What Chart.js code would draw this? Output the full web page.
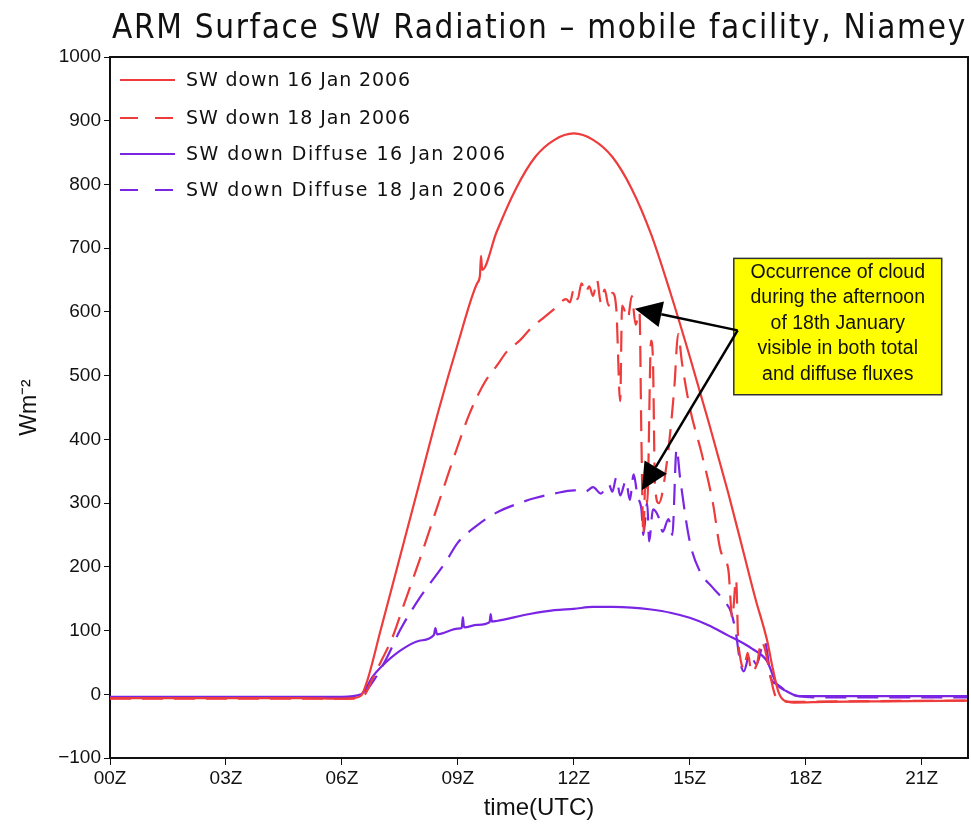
<!DOCTYPE html>
<html>
<head>
<meta charset="utf-8">
<title>ARM Surface SW Radiation</title>
<script src="https://cdn.jsdelivr.net/npm/chart.js@4.4.0/dist/chart.umd.min.js"></script>
<style>
  html, body { margin: 0; padding: 0; background: #fff; }
</style>
</head>
<body>
<canvas id="swChart" width="971" height="825"></canvas>
<script>
// ========== Data (hours UTC / W m-2) ==========
const xTickHours = [0, 3, 6, 9, 12, 15, 18, 21];
const yTickValues = [-100, 0, 100, 200, 300, 400, 500, 600, 700, 800, 900, 1000];

// SW down 16 Jan 2006 (clear day)
const sw16Hours = [0, 3, 5, 6, 6.3, 6.5, 6.65, 7.0, 7.5, 8.0, 8.5, 9.0, 9.5, 9.57, 9.6, 9.63, 10.0, 10.5, 11.0, 11.5, 12.0, 12.5, 13.0, 13.5, 14.0, 14.5, 15.0, 15.5, 16.0, 16.34, 16.7, 17.0, 17.15, 17.3, 17.45, 17.7, 18.5, 20, 22.2];
const sw16Values = [-6, -6, -6, -7, -6, -2, 20, 100, 215, 330, 445, 550, 645, 656, 688, 666, 725, 793, 843, 870, 880, 870, 843, 793, 722, 630, 530, 425, 315, 235, 150, 85, 40, 3, -10, -13, -12, -11, -10];

// SW down 18 Jan 2006 (cloudy afternoon)
const sw18Hours = [0, 3, 6, 6.5, 6.6, 6.8, 7.0, 7.3, 7.6, 8.0, 8.5, 9.0, 9.3, 9.7, 10.0, 10.3, 10.6, 10.9, 11.2, 11.5, 11.8, 11.9, 12.0, 12.1, 12.2, 12.3, 12.4, 12.5, 12.6, 12.7, 12.8, 12.9, 13.0, 13.1, 13.2, 13.25, 13.4, 13.5, 13.6, 13.7, 13.75, 13.8, 13.85, 13.9, 14.0, 14.05, 14.1, 14.2, 14.4, 14.6, 14.7, 14.8, 15.0, 15.3, 15.6, 15.8, 16.0, 16.1, 16.2, 16.25, 16.3, 16.4, 16.5, 16.6, 16.75, 16.85, 16.95, 17.05, 17.2, 17.35, 17.6, 19, 22.2];
const sw18Values = [-7, -7, -7, -5, 0, 25, 50, 88, 140, 209, 300, 390, 440, 490, 515, 540, 555, 575, 590, 605, 620, 615, 635, 620, 645, 630, 640, 625, 650, 615, 635, 610, 630, 605, 460, 610, 590, 625, 580, 600, 400, 250, 330, 300, 555, 520, 330, 300, 360, 480, 565, 520, 450, 380, 300, 225, 195, 120, 180, 90, 60, 40, 65, 35, 50, 83, 70, 40, 0, -8, -12, -11, -10];

// SW down Diffuse 16 Jan 2006
const dif16Hours = [0, 3, 6, 6.5, 6.8, 7.0, 7.5, 8.0, 8.38, 8.42, 8.46, 9.0, 9.1, 9.13, 9.16, 9.5, 9.82, 9.85, 9.88, 10.0, 10.86, 11.5, 12.0, 12.5, 13.0, 13.5, 14.0, 14.5, 15.0, 15.5, 16.0, 16.2, 16.6, 17.0, 17.25, 17.5, 17.85, 19, 22.2];
const dif16Values = [-4, -4, -4, 0, 28, 42, 68, 84, 93, 104, 94, 103, 104, 121, 105, 109, 113, 126, 114, 115, 126, 132, 134, 137, 137, 136, 133, 128, 120, 108, 92, 86, 72, 52, 16, 5, -3, -3, -3];

// SW down Diffuse 18 Jan 2006
const dif18Hours = [0, 3, 6, 6.5, 6.75, 7.16, 7.5, 8.0, 8.7, 9.0, 9.5, 10.0, 10.5, 11.0, 11.5, 12.0, 12.3, 12.5, 12.7, 12.9, 13.0, 13.1, 13.2, 13.35, 13.45, 13.55, 13.65, 13.75, 13.8, 13.9, 13.95, 14.05, 14.2, 14.3, 14.45, 14.55, 14.66, 14.75, 15.0, 15.26, 15.6, 15.9, 16.08, 16.2, 16.3, 16.4, 16.55, 16.73, 16.86, 16.94, 17.0, 17.1, 17.25, 17.5, 17.8, 18.5, 22.2];
const dif18Values = [-5, -5, -5, -2, 15, 57, 100, 150, 209, 238, 265, 285, 298, 308, 315, 320, 318, 325, 315, 330, 318, 340, 312, 335, 305, 345, 310, 290, 250, 300, 240, 290, 277, 255, 275, 250, 385, 340, 240, 193, 167, 146, 127, 94, 52, 36, 63, 47, 72, 83, 68, 25, 16, 5, -3, -5, -5];

const seriesLabels = ['SW down 16 Jan 2006', 'SW down 18 Jan 2006', 'SW down Diffuse 16 Jan 2006', 'SW down Diffuse 18 Jan 2006'];

const noteLines = ['Occurrence of cloud', 'during the afternoon', 'of 18th January', 'visible in both total', 'and diffuse fluxes'];

// ========== Styles ==========
const RED = '#ee3b3b';
const PURPLE = '#7a25e4';
const DASH = [21, 11];
const LEGEND_DASH = [18, 17];

function toPoints(hours, values) {
  return hours.map((h, i) => ({ x: h, y: values[i] }));
}

// ========== Decorations (frame, title, legend, note) ==========
const decorPlugin = {
  id: 'decor',
  afterDraw(chart) {
    const { ctx, chartArea: a, scales } = chart;
    const xs = scales.x, ys = scales.y;
    ctx.save();

    // frame top + right
    ctx.strokeStyle = '#111';
    ctx.lineWidth = 2;
    ctx.beginPath();
    ctx.moveTo(a.left, a.top);
    ctx.lineTo(a.right, a.top);
    ctx.lineTo(a.right, a.bottom);
    ctx.stroke();

    // title
    ctx.fillStyle = '#111';
    ctx.font = '33px "Liberation Sans Narrow", "DejaVu Sans Condensed", sans-serif';
    ctx.textBaseline = 'alphabetic';
    ctx.textAlign = 'left';
    const title = 'ARM Surface SW Radiation \u2013 mobile facility, Niamey';
    fitText(ctx, title, 112, 38, 853);

    // legend
    const rowsY = [80, 118, 154, 190];
    chart.data.datasets.forEach((ds, i) => {
      const y = rowsY[i];
      ctx.strokeStyle = ds.borderColor;
      ctx.lineWidth = 2;
      ctx.setLineDash(ds.borderDash ? LEGEND_DASH : []);
      ctx.beginPath();
      ctx.moveTo(120, y);
      ctx.lineTo(175, y);
      ctx.stroke();
      ctx.setLineDash([]);
      ctx.fillStyle = '#111';
      ctx.font = '19px "DejaVu Sans", sans-serif';
      ctx.textBaseline = 'middle';
      const w = ds.label.length * 11.8;
      fitText(ctx, ds.label, 186, y + 1, w);
    });

    // note box (data coords)
    const bx0 = xs.getPixelForValue(16.14), bx1 = xs.getPixelForValue(21.52);
    const by0 = ys.getPixelForValue(684), by1 = ys.getPixelForValue(470);
    ctx.fillStyle = '#ffff00';
    ctx.fillRect(bx0, by0, bx1 - bx0, by1 - by0);
    ctx.strokeStyle = '#333';
    ctx.lineWidth = 1.5;
    ctx.strokeRect(bx0, by0, bx1 - bx0, by1 - by0);
    ctx.fillStyle = '#111';
    ctx.font = '19.5px "Liberation Sans", Arial, sans-serif';
    ctx.textAlign = 'center';
    ctx.textBaseline = 'middle';
    const cx = (bx0 + bx1) / 2;
    noteLines.forEach((t, i) => ctx.fillText(t, cx, by0 + 14 + i * 25.5));

    // arrows
    const ox = xs.getPixelForValue(16.24), oy = ys.getPixelForValue(571);
    drawArrow(ctx, ox, oy, xs.getPixelForValue(13.58), ys.getPixelForValue(605));
    drawArrow(ctx, ox, oy, xs.getPixelForValue(13.76), ys.getPixelForValue(320));

    ctx.restore();
  }
};

function fitText(ctx, text, x, y, width) {
  ctx.letterSpacing = '0px';
  const natural = ctx.measureText(text).width;
  const extra = (width - natural) / Math.max(1, text.length - 1);
  if (extra > 0) ctx.letterSpacing = extra.toFixed(2) + 'px';
  ctx.fillText(text, x, y, extra < 0 ? width : undefined);
  ctx.letterSpacing = '0px';
}

function drawArrow(ctx, x0, y0, x1, y1) {
  const ang = Math.atan2(y1 - y0, x1 - x0);
  const len = 27, half = 13;
  const bx = x1 - len * Math.cos(ang), by = y1 - len * Math.sin(ang);
  ctx.strokeStyle = '#000';
  ctx.fillStyle = '#000';
  ctx.lineWidth = 2.5;
  ctx.beginPath();
  ctx.moveTo(x0, y0);
  ctx.lineTo(bx, by);
  ctx.stroke();
  ctx.beginPath();
  ctx.moveTo(x1, y1);
  ctx.lineTo(bx + half * Math.sin(ang), by - half * Math.cos(ang));
  ctx.lineTo(bx - half * Math.sin(ang), by + half * Math.cos(ang));
  ctx.closePath();
  ctx.fill();
}

// ========== Chart ==========
const ctx = document.getElementById('swChart');
new Chart(ctx, {
  type: 'line',
  data: {
    datasets: [
      { label: seriesLabels[0], data: toPoints(sw16Hours, sw16Values), borderColor: RED, borderWidth: 2.2 },
      { label: seriesLabels[1], data: toPoints(sw18Hours, sw18Values), borderColor: RED, borderWidth: 2.2, borderDash: DASH },
      { label: seriesLabels[2], data: toPoints(dif16Hours, dif16Values), borderColor: PURPLE, borderWidth: 2.2 },
      { label: seriesLabels[3], data: toPoints(dif18Hours, dif18Values), borderColor: PURPLE, borderWidth: 2.2, borderDash: DASH }
    ]
  },
  options: {
    responsive: false,
    animation: false,
    parsing: false,
    layout: { padding: { top: 57, right: 3, left: 0, bottom: 0 } },
    elements: {
      point: { radius: 0 },
      line: { cubicInterpolationMode: 'monotone', fill: false }
    },
    plugins: {
      legend: { display: false },
      tooltip: { enabled: false }
    },
    scales: {
      x: {
        type: 'linear',
        min: 0,
        max: 22.2,
        afterBuildTicks: s => { s.ticks = xTickHours.map(v => ({ value: v })); },
        afterFit: s => { s.height = 67; },
        ticks: {
          color: '#111',
          padding: 2,
          font: { family: 'Liberation Sans', size: 19 },
          callback: v => String(v).padStart(2, '0') + 'Z'
        },
        grid: { drawOnChartArea: false, color: '#111', tickLength: 7 },
        border: { color: '#111', width: 2 },
        title: {
          display: true,
          text: 'time(UTC)',
          color: '#111',
          font: { family: 'Liberation Sans', size: 24 },
          padding: { top: 0, bottom: 2 }
        }
      },
      y: {
        type: 'linear',
        min: -100,
        max: 1000,
        afterBuildTicks: s => { s.ticks = yTickValues.map(v => ({ value: v })); },
        afterFit: s => { s.width = 110; },
        ticks: {
          color: '#111',
          padding: 3,
          font: { family: 'Liberation Sans', size: 19 },
          callback: v => (v < 0 ? '\u2212' + Math.abs(v) : String(v))
        },
        grid: { drawOnChartArea: false, color: '#111', tickLength: 6 },
        border: { color: '#111', width: 2 },
        title: {
          display: true,
          text: 'Wm\u207B\u00B2',
          color: '#111',
          font: { family: 'Liberation Sans', size: 23 },
          padding: { top: 16, bottom: 0 }
        }
      }
    }
  },
  plugins: [decorPlugin]
});
</script>
</body>
</html>
